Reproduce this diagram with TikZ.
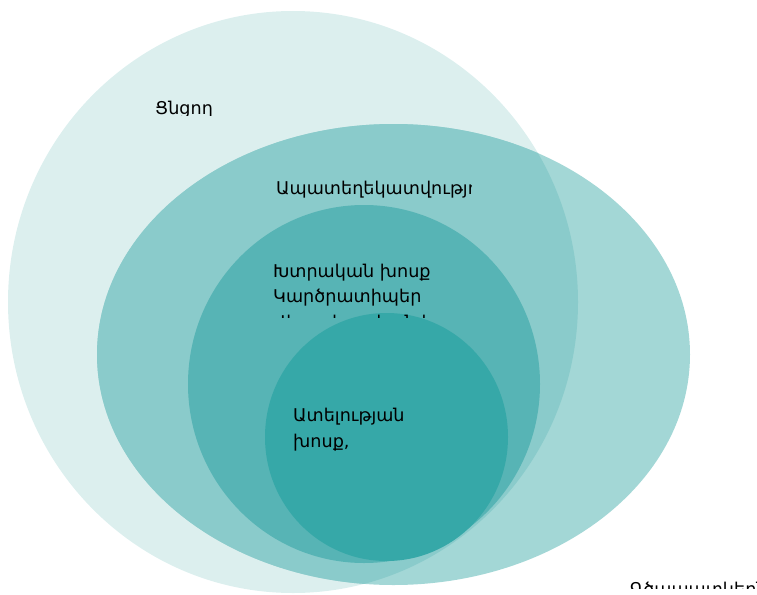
\documentclass[tikz,border=0pt]{standalone}
\usepackage{fontspec}
\setmainfont{DejaVu Sans}
\definecolor{cA}{HTML}{DCEFEE}
\definecolor{cB}{HTML}{A3D7D6}
\definecolor{cBb}{HTML}{8ACBCB}
\definecolor{cC}{HTML}{57B4B5}
\definecolor{cD}{HTML}{36A8A8}
\begin{document}
\begin{tikzpicture}[x=1pt,y=-1pt,
  lbl/.style={anchor=base west, inner sep=0pt, font=\fontsize{17.6}{25}\selectfont, text=black}]
\useasboundingbox (0,0) rectangle (757,594);
\fill[cA] (293,302) ellipse [x radius=285, y radius=291];
\fill[cB] (393.5,354.5) ellipse [x radius=296.5, y radius=230.5];
\begin{scope}
  \clip (293,302) ellipse [x radius=285, y radius=291];
  \fill[cBb] (393.5,354.5) ellipse [x radius=296.5, y radius=230.5];
\end{scope}
\fill[cC] (364,384) ellipse [x radius=176, y radius=179];
\fill[cD] (386.5,437) ellipse [x radius=121.5, y radius=124];
\begin{scope}
  \clip (0,0) rectangle (757,115);
  \node[lbl] (t1) at (155,114) {Ցնցող};
\end{scope}
\begin{scope}
  \clip (0,0) rectangle (471,594);
  \node[lbl] (t2) at (276,194) {Ապատեղեկատվություն};
\end{scope}
\node[lbl] (t3) at (273,277) {Խտրական խոսք};
\node[lbl] (t4) at (273,302) {Կարծրատիպեր};
\begin{scope}
  \clip (0,0) rectangle (757,317);
  \node[lbl] (t5) at (273,328) {Վիրավորական խոսք};
\end{scope}
\node[lbl] (t6) at (293,421) {Ատելության};
\node[lbl] (t7) at (293,447) {խոսք,};
\begin{scope}
  \clip (0,0) rectangle (757,588);
  \node[lbl] (t8) at (630,595) {Գծապատկերներ};
\end{scope}
\end{tikzpicture}
\end{document}
